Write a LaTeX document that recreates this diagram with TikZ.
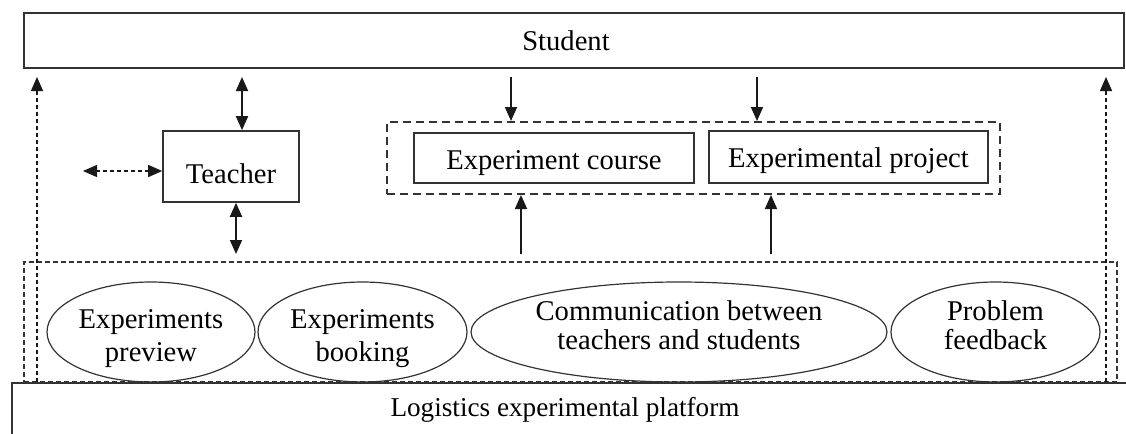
\documentclass[tikz,border=0pt]{standalone}
\usepackage{fontspec}
\setmainfont{Liberation Serif}
\usetikzlibrary{arrows.meta,shapes.geometric,calc}
\begin{document}
\begin{tikzpicture}[x=0.5pt,y=-0.5pt,
  txt/.style={font=\fontsize{14.3}{14.5}\selectfont},
  box/.style={draw=black!80, line width=0.8pt, rectangle, inner sep=0pt, txt},
  oval/.style={draw=black!80, line width=0.6pt, ellipse, inner sep=0pt},
  ovaltxt/.style={txt, align=center},
  grpbox/.style={draw=black!80, line width=1pt, dash pattern=on 4pt off 2.5pt, rectangle, inner sep=0pt},
  bigbox/.style={draw=black!80, line width=0.6pt, dash pattern=on 2.5pt off 1.5pt, rectangle, inner sep=0pt},
  arr/.style={-{Triangle[length=7pt,width=6pt]}, line width=0.9pt, draw=black!90},
  darr/.style={{Triangle[length=7pt,width=6pt]}-{Triangle[length=7pt,width=6pt]}, line width=0.9pt, draw=black!90},
  dsh/.style={dash pattern=on 2pt off 1.5pt, line width=0.7pt}
]
\useasboundingbox (0,0) rectangle (1126,434);
\clip (0,0) rectangle (1126,434);

% main boxes
\node[box, minimum width=550pt, minimum height=27.5pt,
      label={[txt, xshift=-4pt]center:Student}] (student) at (574,40.5) {};
\node[box, minimum width=567pt, minimum height=32pt, anchor=north west] (platform) at (11,382) {};
\node[font=\fontsize{13.6}{14}\selectfont] (platformtext) at (565,410) {Logistics experimental platform};

\node[box, minimum width=68pt, minimum height=35.5pt,
      label={[txt, yshift=-3.5pt]center:Teacher}] (teacher) at (231,166.5) {};

\node[grpbox, minimum width=306.5pt, minimum height=36pt] (group) at (693.5,158) {};
\node[box, minimum width=140pt, minimum height=25pt,
      label={[txt, yshift=-2.5pt]center:Experiment course}] (course) at (554,158) {};
\node[box, minimum width=139.5pt, minimum height=26pt,
      label={[txt, yshift=-2pt]center:Experimental project}] (project) at (848.5,157) {};

\node[bigbox, minimum width=546.5pt, minimum height=60pt] (big) at (570.5,322) {};

% ellipses
\node[oval, minimum width=104pt, minimum height=50pt,
      label={[ovaltxt, font=\fontsize{14.3}{16.5}\selectfont, yshift=-3.2pt]center:Experiments\\preview}] (e1) at (151,332) {};
\node[oval, minimum width=104.5pt, minimum height=50pt,
      label={[ovaltxt, font=\fontsize{14.3}{16.5}\selectfont, yshift=-3.2pt]center:Experiments\\booking}] (e2) at (362.5,332) {};
\node[oval, minimum width=208pt, minimum height=50pt,
      label={[ovaltxt, yshift=3.5pt]center:Communication between\\teachers and students}] (e3) at (679,332) {};
\node[oval, minimum width=104.5pt, minimum height=50pt,
      label={[ovaltxt, yshift=3.5pt]center:Problem\\feedback}] (e4) at (995.5,332) {};

% helper coordinates
\path (242,0) coordinate (xa) (236,0) coordinate (xb) (511,0) coordinate (xc)
      (757,0) coordinate (xd) (521,0) coordinate (xe) (771,0) coordinate (xf)
      (37,0) coordinate (xg) (1106,0) coordinate (xh);
\coordinate (below) at (0,77);
\coordinate (bt) at (0,254);
\coordinate (tl) at (83,171);

% connectors
\draw[darr] (teacher.north -| xa) -- (xa |- below);
\draw[darr] (teacher.south -| xb) -- (xb |- bt);
\draw[darr, dsh] (teacher.west |- tl) -- (tl);
\draw[arr] (xc |- below) -- (group.north -| xc);
\draw[arr] (xd |- below) -- (group.north -| xd);
\draw[arr] (xe |- bt) -- (group.south -| xe);
\draw[arr] (xf |- bt) -- (group.south -| xf);
\draw[arr, dsh] (platform.north -| xg) -- (xg |- below);
\draw[arr, dsh] (platform.north -| xh) -- (xh |- below);
\end{tikzpicture}
\end{document}
